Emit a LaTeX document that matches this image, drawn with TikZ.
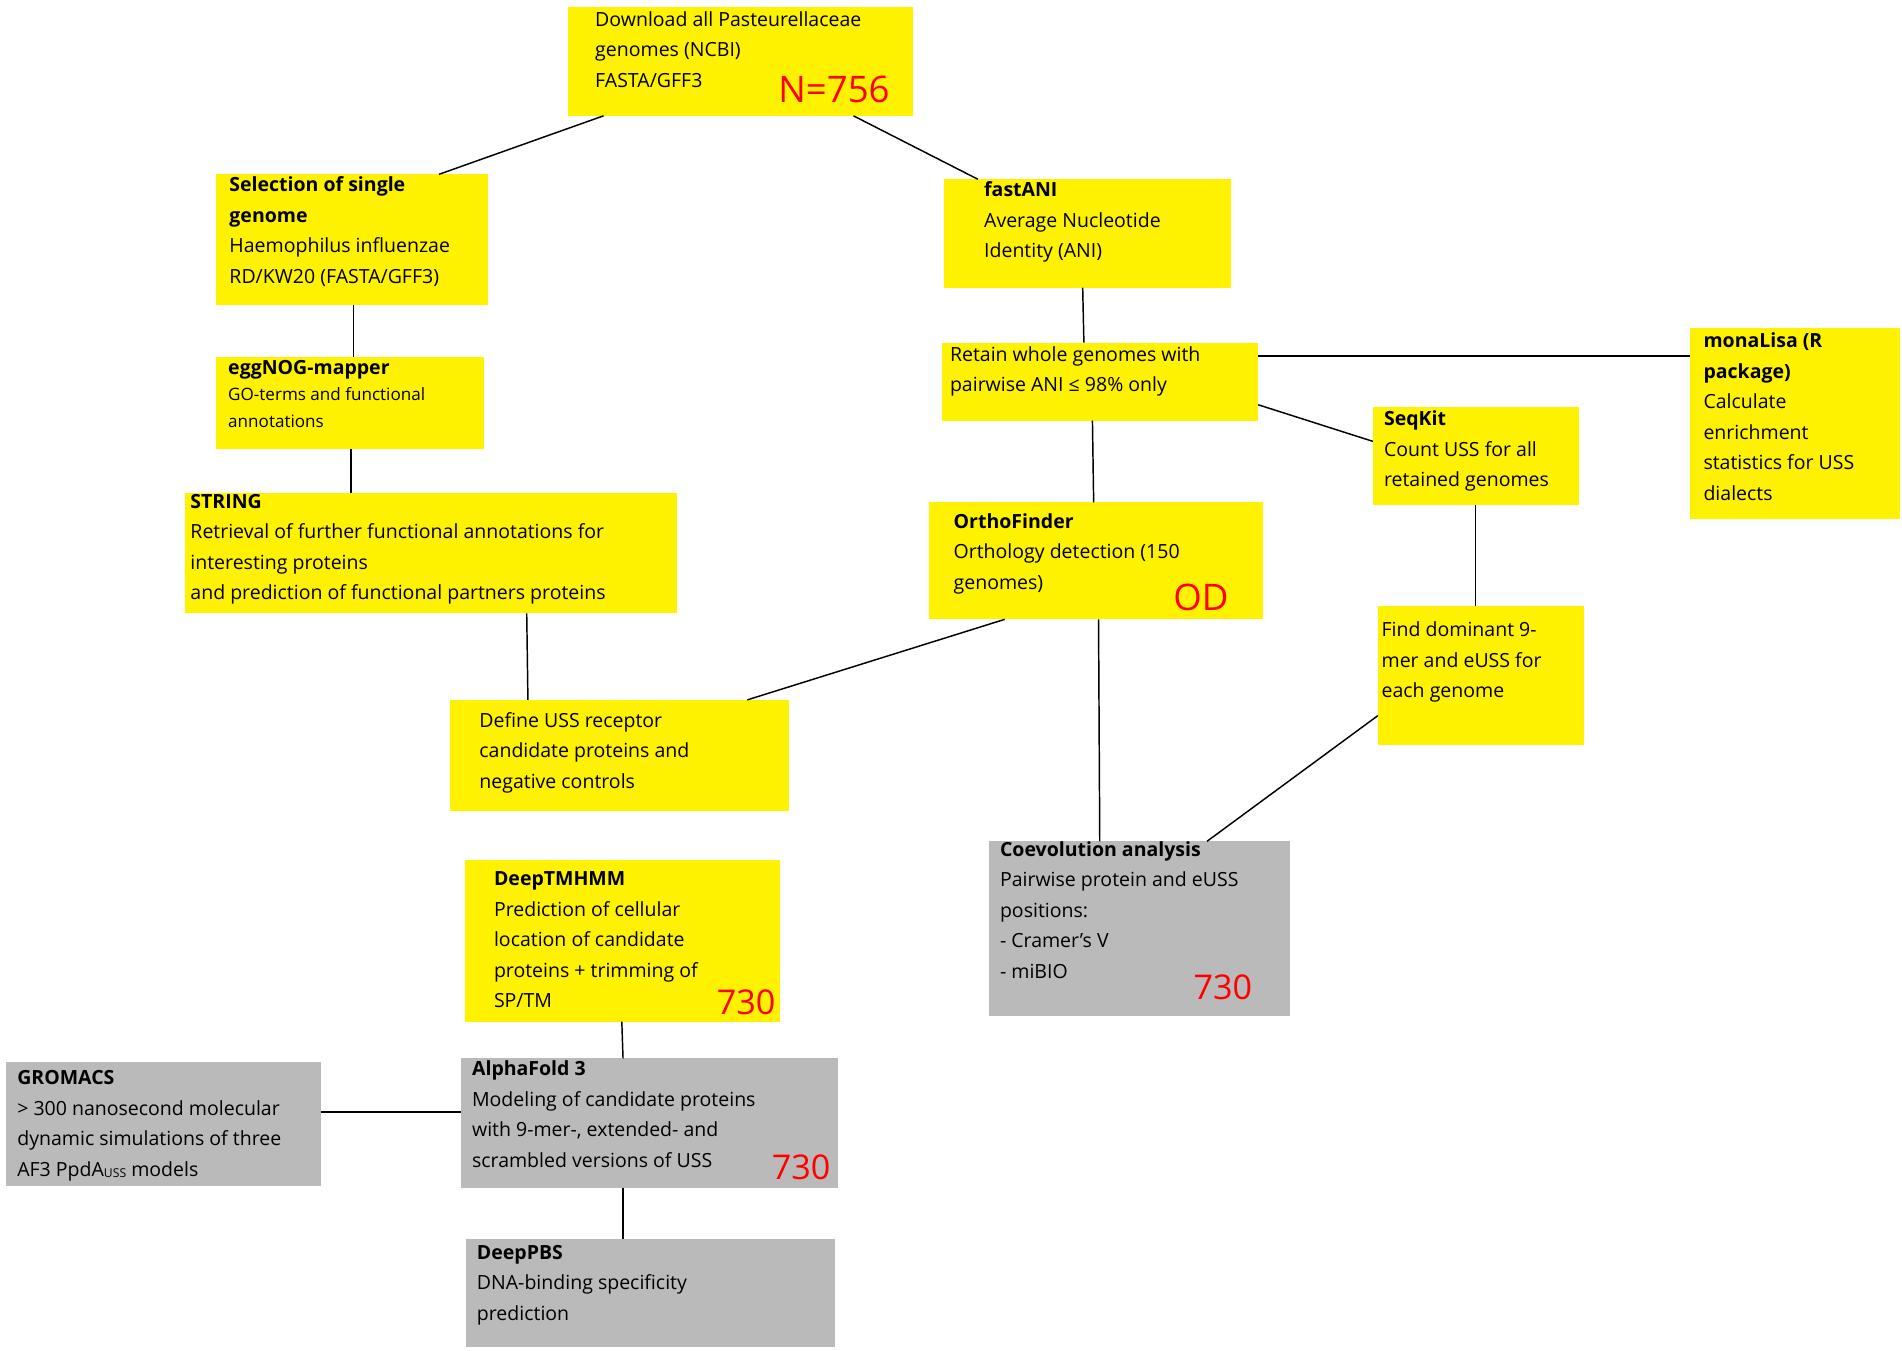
\documentclass[tikz,border=0pt]{standalone}
\usepackage{fontspec}
\setmainfont{Open Sans}
\begin{document}
\begin{tikzpicture}[x=1pt,y=-1pt,
  ybox/.style={fill=yellow,draw=none,anchor=north west,inner sep=0,outer sep=0},
  gbox/.style={fill=black!27,draw=none,anchor=north west,inner sep=0,outer sep=0},
  txt/.style={anchor=north west,inner sep=0,align=left,font=\fontsize{16}{25}\selectfont},
  red/.style={text=red,inner sep=0,font=\fontsize{30}{30}\selectfont},
  conn/.style={draw=black,line width=1.2pt}]
\useasboundingbox (0,0) rectangle (1560,1108);
\fill[white] (0,0) rectangle (1560,1108);
% boxes
\node[ybox,minimum width=283,minimum height=89] (dl) at (466,6) {};
\node[ybox,minimum width=223,minimum height=107] (sel) at (177,143) {};
\node[ybox,minimum width=236,minimum height=89] (fa) at (774,147) {};
\node[ybox,minimum width=220,minimum height=75] (egg) at (177,293) {};
\node[ybox,minimum width=259,minimum height=64] (ret) at (773,281) {};
\node[ybox,minimum width=172,minimum height=157] (mona) at (1386,269) {};
\node[ybox,minimum width=169,minimum height=80] (seq) at (1126,334) {};
\node[ybox,minimum width=403,minimum height=99] (str) at (152,404) {};
\node[ybox,minimum width=274,minimum height=96] (orth) at (762,412) {};
\node[ybox,minimum width=169,minimum height=114] (find) at (1130,497) {};
\node[ybox,minimum width=278,minimum height=91] (def) at (369,574) {};
\node[ybox,minimum width=259,minimum height=133] (tm) at (381,705) {};
\node[gbox,minimum width=247,minimum height=143] (coe) at (811,690) {};
\node[gbox,minimum width=258,minimum height=102] (gro) at (5,871) {};
\node[gbox,minimum width=309,minimum height=106] (af) at (378,868) {};
\node[gbox,minimum width=303,minimum height=89] (pbs) at (382,1016) {};
% texts
\node[txt] (t1) at (488,9) {Download all Pasteurellaceae\\genomes (NCBI)\\FASTA/GFF3};
\node[red] (n1) at (684,73) {N=756};
\node[txt] (t2) at (188,145) {\textbf{Selection of single}\\\textbf{genome}\\Haemophilus influenzae\\RD/KW20 (FASTA/GFF3)};
\node[txt] (t3) at (807,149) {\textbf{fastANI}\\Average Nucleotide\\Identity (ANI)};
\node[txt] (t4) at (187,295) {\textbf{eggNOG-mapper}\\[-3pt]{\fontsize{14}{22}\selectfont GO-terms and functional}\\[-3pt]{\fontsize{14}{22}\selectfont annotations}};
\node[txt] (t5) at (779,284) {Retain whole genomes with\\pairwise ANI ≤ 98\% only};
\node[txt] (t6) at (1397,273) {\textbf{monaLisa (R}\\\textbf{package)}\\Calculate\\enrichment\\statistics for USS\\dialects};
\node[txt] (t7) at (1135,337) {\textbf{SeqKit}\\Count USS for all\\retained genomes};
\node[txt] (t8) at (156,405) {\textbf{STRING}\\Retrieval of further functional annotations for\\interesting proteins\\and prediction of functional partners proteins};
\node[txt] (t9) at (782,421) {\textbf{OrthoFinder}\\Orthology detection (150\\genomes)};
\node[red] (n2) at (985,490) {OD};
\node[txt] (t10) at (1133,510) {Find dominant 9-\\mer and eUSS for\\each genome};
\node[txt] (t11) at (393,584) {Define USS receptor\\candidate proteins and\\negative controls};
\node[txt] (t12) at (405,715) {\textbf{DeepTMHMM}\\Prediction of cellular\\location of candidate\\proteins + trimming of\\SP/TM};
\node[red,font=\fontsize{28}{28}\selectfont] (n3) at (612,822) {730};
\node[txt] (t13) at (820,690) {\textbf{Coevolution analysis}\\Pairwise protein and eUSS\\positions:\\- Cramer's V\\- miBIO};
\node[red,font=\fontsize{28}{28}\selectfont] (n4) at (1003,810) {730};
\node[txt] (t14) at (14,878) {\textbf{GROMACS}\\> 300 nanosecond molecular\\dynamic simulations of three\\AF3 PpdA\raisebox{-1pt}{\fontsize{10}{10}\selectfont USS} models};
\node[txt] (t15) at (387,870) {\textbf{AlphaFold 3}\\Modeling of candidate proteins\\with 9-mer-, extended- and\\scrambled versions of USS};
\node[red,font=\fontsize{28}{28}\selectfont] (n5) at (657,957) {730};
\node[txt] (t16) at (391,1021) {\textbf{DeepPBS}\\DNA-binding specificity\\prediction};
% connectors
\draw[conn] ([xshift=29pt]dl.south west) -- ([xshift=183pt]sel.north west);
\draw[conn] ([xshift=234pt]dl.south west) -- ([xshift=28pt]fa.north west);
\draw[conn] ([xshift=113pt]sel.south west) -- ([xshift=113pt]egg.north west);
\draw[conn] ([xshift=111pt]egg.south west) -- ([xshift=136pt]str.north west);
\draw[conn] ([xshift=114pt]fa.south west) -- ([xshift=116pt]ret.north west);
\draw[conn] ([yshift=-11pt]ret.north east) -- ([yshift=-23pt]mona.north west);
\draw[conn] ([yshift=13pt]ret.south east) -- ([yshift=-28pt]seq.north west);
\draw[conn] ([xshift=123pt]ret.south west) -- ([xshift=135pt]orth.north west);
\draw[conn] ([xshift=84pt]seq.south west) -- ([xshift=80pt]find.north west);
\draw[conn] ([xshift=280pt]str.south west) -- ([xshift=64pt]def.north west);
\draw[conn] ([xshift=62pt]orth.south west) -- ([xshift=244pt]def.north west);
\draw[conn] ([xshift=139pt]orth.south west) -- ([xshift=91pt]coe.north west);
\draw[conn] ([yshift=24pt]find.south west) -- ([xshift=179pt]coe.north west);
\draw[conn] ([xshift=129pt]tm.south west) -- ([xshift=133pt]af.north west);
\draw[conn] ([yshift=-41pt]gro.north east) -- ([yshift=-44pt]af.north west);
\draw[conn] ([xshift=133pt]af.south west) -- ([xshift=129pt]pbs.north west);
\end{tikzpicture}
\end{document}
